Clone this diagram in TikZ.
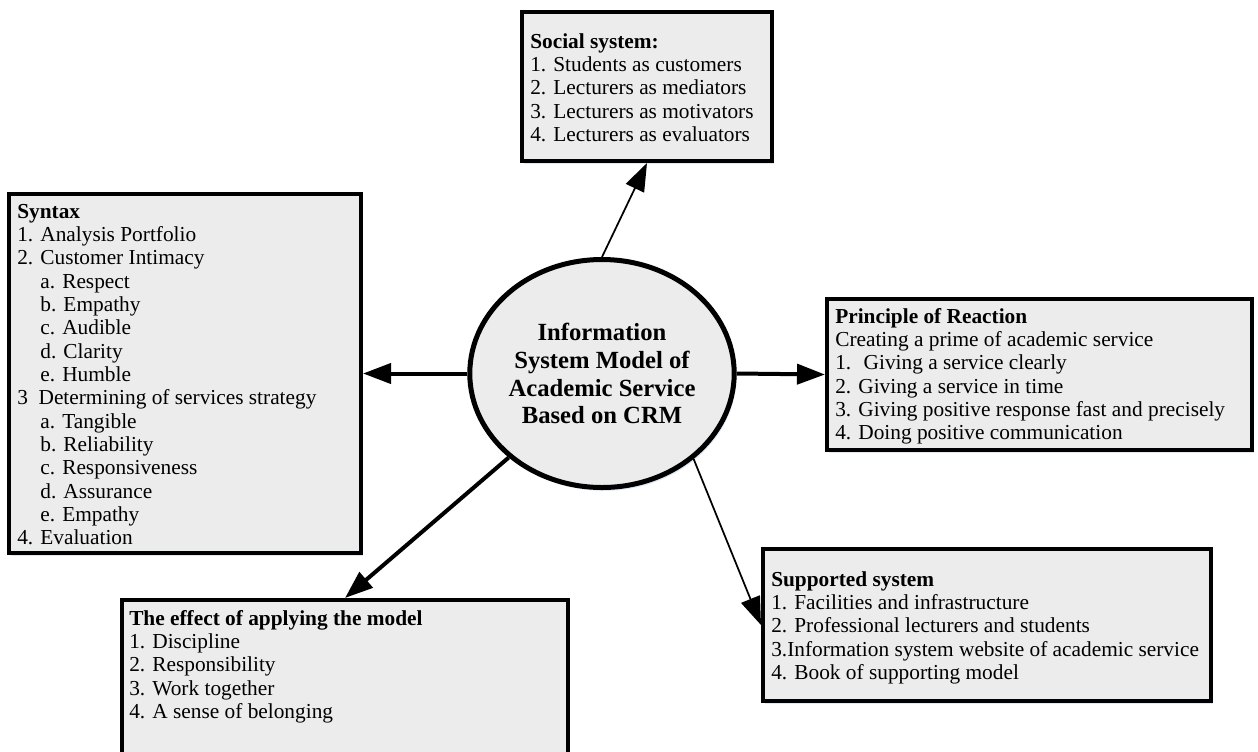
\documentclass[tikz,border=0pt]{standalone}
\usepackage{fontspec}
\setmainfont{Liberation Serif}
\usetikzlibrary{arrows.meta,shapes.geometric,shadows}
\definecolor{boxgray}{RGB}{236,236,236}
\definecolor{shadowblue}{RGB}{222,232,246}
\begin{document}
\begin{tikzpicture}[x=0.75pt,y=-0.75pt,
  box/.style={draw=black, line width=3pt, fill=boxgray, rectangle, inner sep=0pt,
    drop shadow={shadow xshift=1.5pt, shadow yshift=-2.5pt, fill=shadowblue, opacity=1}},
  hub/.style={draw=black, line width=3.75pt, fill=boxgray, ellipse, inner sep=0pt,
    minimum width=191.25pt, minimum height=171pt, align=center,
    font=\fontsize{18.5}{20.9}\selectfont\bfseries,
    drop shadow={shadow xshift=1.5pt, shadow yshift=-2.5pt, fill=shadowblue, opacity=1}},
  txt/.style={anchor=base west, inner sep=0pt, font=\fontsize{16}{17.5}\selectfont},
  thickarrow/.style={line width=3pt, -{Triangle[length=21pt,width=15pt]}},
  thinarrow/.style={line width=1.3pt, -{Triangle[length=21pt,width=15pt]}}
]
\useasboundingbox (0,0) rectangle (1258,751);
\clip (0,0) rectangle (1258,751);

% boxes
\node[box, minimum width=187.5pt, minimum height=111.75pt] (social) at (647,86.5) {};
\node[box, minimum width=264pt, minimum height=269.25pt] (syntax) at (185,373.5) {};
\node[box, minimum width=318.75pt, minimum height=113.25pt] (principle) at (1039.5,374.5) {};
\node[box, minimum width=336pt, minimum height=114pt] (supported) at (987,625) {};
\node[box, minimum width=334.5pt, minimum height=126pt] (effect) at (345,684) {};

% hub
\node[hub] (circ) at (602,373.5) {Information\\System Model of\\Academic Service\\Based on CRM};

% texts
\node[txt] (socialtxt) at (530,48) {\begin{tabular}[t]{@{}l@{}}
\textbf{Social system:}\\
1. Students as customers\\
2. Lecturers as mediators\\
3. Lecturers as motivators\\
4. Lecturers as evaluators
\end{tabular}};

\node[txt] (syntaxtxt) at (17,218) {\begin{tabular}[t]{@{}l@{}}
\textbf{Syntax}\\
1. Analysis Portfolio\\
2. Customer Intimacy\\
\hphantom{2. }a. Respect\\
\hphantom{2. }b. Empathy\\
\hphantom{2. }c. Audible\\
\hphantom{2. }d. Clarity\\
\hphantom{2. }e. Humble\\
3\hphantom{.} Determining of services strategy\\
\hphantom{2. }a. Tangible\\
\hphantom{2. }b. Reliability\\
\hphantom{2. }c. Responsiveness\\
\hphantom{2. }d. Assurance\\
\hphantom{2. }e. Empathy\\
4. Evaluation
\end{tabular}};

\node[txt] (principletxt) at (835,323) {\begin{tabular}[t]{@{}l@{}}
\textbf{Principle of Reaction}\\
Creating a prime of academic service\\
1.~ Giving a service clearly\\
2. Giving a service in time\\
3. Giving positive response fast and precisely\\
4. Doing positive communication
\end{tabular}};

\node[txt] (supportedtxt) at (771,586) {\begin{tabular}[t]{@{}l@{}}
\textbf{Supported system}\\
1. Facilities and infrastructure\\
2. Professional lecturers and students\\
3.Information system website of academic service\\
4. Book of supporting model
\end{tabular}};

\node[txt] (effecttxt) at (129,625) {\begin{tabular}[t]{@{}l@{}}
\textbf{The effect of applying the model}\\
1. Discipline\\
2. Responsibility\\
3. Work together\\
4. A sense of belonging
\end{tabular}};

% connectors
\draw[thinarrow] (circ.north) -- (social.south);
\draw[thickarrow] (circ.west) -- (syntax.east);
\draw[thickarrow] (circ.east) -- (principle.west);
\draw[thickarrow] (circ.222) -- (effect.north);
\draw[thinarrow] (circ.317) -- (supported.west);
\end{tikzpicture}
\end{document}
